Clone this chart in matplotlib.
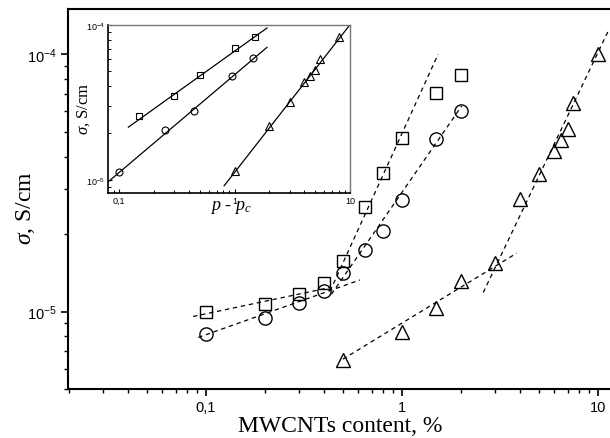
import matplotlib
matplotlib.use('Agg')
import matplotlib.pyplot as plt
from matplotlib.ticker import FuncFormatter, NullFormatter, LogLocator, LogFormatterSciNotation

plt.rcParams['mathtext.fontset'] = 'custom'
plt.rcParams['mathtext.rm'] = 'Liberation Sans'
plt.rcParams['mathtext.it'] = 'Liberation Serif:italic'
plt.rcParams['mathtext.bf'] = 'Liberation Sans:bold'
plt.rcParams['mathtext.sf'] = 'Liberation Sans'

# ---- main plot data ----
sq_x = [0.1, 0.2, 0.3, 0.4, 0.5, 0.65, 0.8, 1.0, 1.5, 2.0]
sq_y = [1.0e-5, 1.07e-5, 1.175e-5, 1.29e-5, 1.57e-5, 2.55e-5, 3.47e-5, 4.73e-5, 7.1e-5, 8.28e-5]
ci_x = [0.1, 0.2, 0.3, 0.4, 0.5, 0.65, 0.8, 1.0, 1.5, 2.0]
ci_y = [8.17e-6, 9.48e-6, 1.084e-5, 1.2e-5, 1.41e-5, 1.73e-5, 2.06e-5, 2.72e-5, 4.68e-5, 6.02e-5]
tr_x = [0.5, 1.0, 1.5, 2.0, 3.0, 4.0, 5.0, 6.0, 6.5, 7.0, 7.5, 10.0]
tr_y = [6.47e-6, 8.34e-6, 1.03e-5, 1.315e-5, 1.55e-5, 2.75e-5, 3.43e-5, 4.21e-5, 4.64e-5, 5.14e-5, 6.45e-5, 1.0e-4]

# dashed fit lines (end points, data units)
fit_sq_low_x = [0.0861, 0.43]
fit_sq_low_y = [9.57e-6, 1.24e-5]
fit_sq_high_x = [0.43, 1.53]
fit_sq_high_y = [1.20e-5, 1.0e-4]
fit_ci_low_x = [0.0914, 0.611]
fit_ci_low_y = [7.93e-6, 1.327e-5]
fit_ci_high_x = [0.437, 2.02]
fit_ci_high_y = [1.167e-5, 6.3e-5]
fit_tr_low_x = [0.5, 3.85]
fit_tr_low_y = [6.53e-6, 1.686e-5]
fit_tr_high_x = [2.60, 11.29]
fit_tr_high_y = [1.186e-5, 1.232e-4]

# ---- inset data ----
in_sq_x = [0.15, 0.3, 0.5, 1.0, 1.5]
in_sq_y = [2.57e-5, 3.49e-5, 4.74e-5, 7.11e-5, 8.3e-5]
in_ci_x = [0.1, 0.25, 0.45, 0.95, 1.45]
in_ci_y = [1.13e-5, 2.10e-5, 2.77e-5, 4.70e-5, 6.08e-5]
in_tr_x = [1.0, 2.0, 3.0, 4.0, 4.5, 5.0, 5.5, 8.0]
in_tr_y = [1.15e-5, 2.24e-5, 3.16e-5, 4.25e-5, 4.70e-5, 5.13e-5, 6.01e-5, 8.30e-5]

in_fit_sq_x = [0.1205, 1.91]
in_fit_sq_y = [2.19e-5, 9.52e-5]
in_fit_ci_x = [0.0807, 1.91]
in_fit_ci_y = [9.75e-6, 7.15e-5]
in_fit_tr_x = [0.814, 10.0]
in_fit_tr_y = [9.19e-6, 1.0e-4]

xtick_text = {0.1: '0,1', 1.0: '1', 10.0: '10'}


def xfmt(v, pos):
    for k, s in xtick_text.items():
        if abs(v - k) / k < 1e-6:
            return s
    return ''


W, H = 610, 439
fig = plt.figure(figsize=(W / 100, H / 100), dpi=100)

# ---------- main axes ----------
L, R, T, B = 68, 612, 10, 390
ax = fig.add_axes([L / W, 1 - B / H, (R - L) / W, (B - T) / H])
ax.set_xscale('log')
ax.set_yscale('log')
ax.set_xlim(0.0198, 11.8)
ax.set_ylim(5.0e-6, 1.5e-4)

dash = (0, (3.5, 3.0))
for xs, ys in [(fit_sq_low_x, fit_sq_low_y), (fit_sq_high_x, fit_sq_high_y),
               (fit_ci_low_x, fit_ci_low_y), (fit_ci_high_x, fit_ci_high_y),
               (fit_tr_low_x, fit_tr_low_y), (fit_tr_high_x, fit_tr_high_y)]:
    ax.plot(xs, ys, color='black', lw=0.9, linestyle=dash)

ax.plot(sq_x, sq_y, linestyle='none', marker='s', ms=8, mfc='none', mec='black', mew=1.0)
ax.plot(ci_x, ci_y, linestyle='none', marker='o', ms=9.5, mfc='none', mec='black', mew=1.0)
ax.plot(tr_x, tr_y, linestyle='none', marker='^', ms=10.5, mfc='none', mec='black', mew=1.0)

for s in ax.spines.values():
    s.set_linewidth(1.5)
ax.tick_params(which='major', direction='out', length=5, width=1.2, labelsize=10.5, pad=3)
ax.tick_params(which='minor', direction='out', length=3.2, width=1.0)
ax.tick_params(top=False, right=False)
ax.xaxis.set_major_locator(LogLocator(base=10))
ax.xaxis.set_major_formatter(FuncFormatter(xfmt))
ax.xaxis.set_minor_formatter(NullFormatter())
ax.yaxis.set_major_formatter(LogFormatterSciNotation())
ax.yaxis.set_minor_formatter(NullFormatter())
for lab in ax.get_xticklabels() + ax.get_yticklabels():
    lab.set_fontfamily('Liberation Sans')

ax.set_xlabel('MWCNTs content, %', fontfamily='Liberation Serif', fontsize=17)
ax.xaxis.set_label_coords((340 - L) / (R - L), (B - 416) / (B - T))
ax.set_ylabel(r'$\sigma$, S/cm', fontfamily='Liberation Serif', fontsize=17)
ax.yaxis.set_label_coords((37 - L) / (R - L), (B - 208) / (B - T))

# ---------- inset ----------
iL, iR, iT, iB = 108.3, 350, 25.7, 194.3
ins = fig.add_axes([iL / W, 1 - iB / H, (iR - iL) / W, (iB - iT) / H])
ins.set_xscale('log')
ins.set_yscale('log')
ins.set_xlim(0.0807, 10.0)
ins.set_ylim(8.21e-6, 1.0e-4)

for xs, ys in [(in_fit_sq_x, in_fit_sq_y), (in_fit_ci_x, in_fit_ci_y), (in_fit_tr_x, in_fit_tr_y)]:
    ins.plot(xs, ys, color='black', lw=0.9)
ins.plot(in_sq_x, in_sq_y, linestyle='none', marker='s', ms=4.5, mfc='none', mec='black', mew=0.8)
ins.plot(in_ci_x, in_ci_y, linestyle='none', marker='o', ms=5, mfc='none', mec='black', mew=0.8)
ins.plot(in_tr_x, in_tr_y, linestyle='none', marker='^', ms=5.5, mfc='none', mec='black', mew=0.8)

ins.spines['left'].set_linewidth(1.2)
ins.spines['bottom'].set_linewidth(1.2)
ins.spines['top'].set_color('#777777')
ins.spines['right'].set_color('#777777')
ins.spines['top'].set_linewidth(1.0)
ins.spines['right'].set_linewidth(1.0)
ins.tick_params(which='major', direction='in', length=3, width=0.8, labelsize=6.5, pad=2)
ins.tick_params(which='minor', direction='in', length=2, width=0.7)
ins.tick_params(top=False, right=False)
ins.xaxis.set_major_locator(LogLocator(base=10))
ins.xaxis.set_major_formatter(FuncFormatter(xfmt))
ins.xaxis.set_minor_formatter(NullFormatter())
ins.yaxis.set_major_formatter(LogFormatterSciNotation())
ins.yaxis.set_minor_formatter(NullFormatter())
for lab in ins.get_xticklabels() + ins.get_yticklabels():
    lab.set_fontfamily('Liberation Sans')

ins.set_xlabel(r'$p$ - $p_c$', fontfamily='Liberation Serif', fontsize=13)
ins.xaxis.set_label_coords((231 - iL) / (iR - iL), (iB - 199) / (iB - iT))
ins.set_ylabel(r'$\sigma$, S/cm', fontfamily='Liberation Serif', fontsize=12)
ins.yaxis.set_label_coords((92 - iL) / (iR - iL), (iB - 109) / (iB - iT))

fig.savefig('out.png', dpi=100)
